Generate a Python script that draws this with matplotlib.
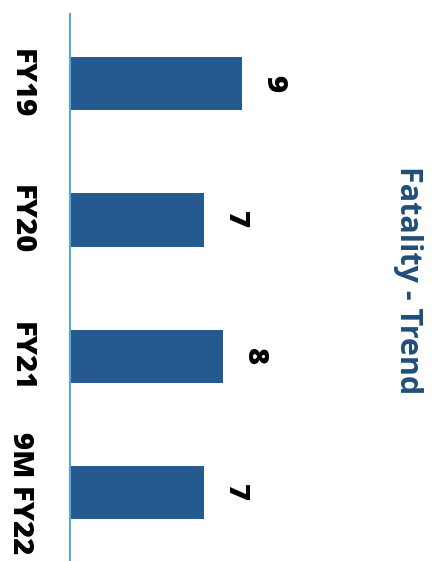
import matplotlib
matplotlib.use("Agg")
import matplotlib.pyplot as plt

plt.rcParams['font.family'] = ['Open Sans', 'DejaVu Sans']

categories = ["FY19", "FY20", "FY21", "9M FY22"]
fatalities = [9, 7, 8, 7]

BAR_COLOR = "#245a8f"
AXIS_COLOR = "#5aa5d6"
TITLE_COLOR = "#1f4e79"

fig = plt.figure(figsize=(4.36, 5.61), dpi=100)
# axes spans from the axis line (x=70px) to the right
ax = fig.add_axes([70 / 436, 0, 290 / 436, 547 / 561])

pos = list(range(len(categories)))
ax.barh(pos, fatalities, height=0.39, color=BAR_COLOR)
ax.set_xlim(0, 290 / 19.1)
ax.set_ylim(3.5, -0.51)

for s in ["top", "right", "bottom"]:
    ax.spines[s].set_visible(False)
ax.spines["left"].set_color(AXIS_COLOR)
ax.spines["left"].set_linewidth(1.5)
ax.set_xticks([])
ax.set_yticks(pos)
ax.set_yticklabels(categories, rotation=-90, fontsize=21, fontweight="heavy",
                   va="center")
ax.tick_params(axis="y", length=0, pad=25)

for i, v in enumerate(fatalities):
    ax.annotate(str(v), (v, i), xytext=(23, 0), textcoords="offset points",
                ha="center", va="center", rotation=-90, fontsize=21,
                fontweight="heavy", color="black")

fig.text(408 / 436, 1 - 280 / 561, "Fatality - Trend", rotation=-90,
         ha="center", va="center", fontsize=22, fontweight="bold",
         color=TITLE_COLOR)

fig.savefig("out.png", dpi=100)
